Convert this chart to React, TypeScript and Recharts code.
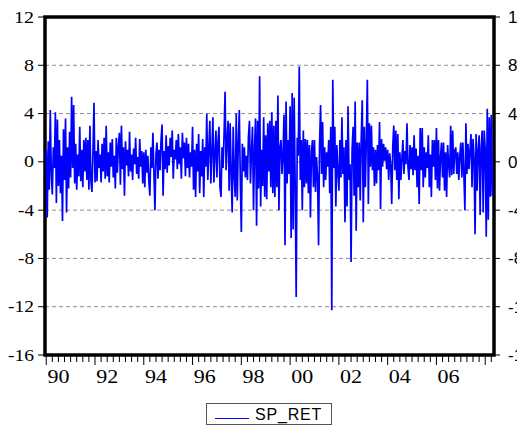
import React from 'react'
import { LineChart, Line, XAxis, YAxis, CartesianGrid, ReferenceArea } from 'recharts'

const START_YEAR = 1990
const PER_YEAR = 24

// SP_RET (%), twice a month, one row per year
const SP_RET: number[] = [
  1.0, -4.6, 1.7, -2.3, 4.3, -1.0, -2.7, 1.2, -0.5, 4.1, -3.4, 3.5, -2.0, 1.8, -2.6, 0.5, -4.9, 2.7, -1.5, 3.6, -4.2, 1.2, -2.2, 2.5,
  -1.3, 5.4, -0.5, 4.7, -1.8, 1.5, -2.3, 0.6, -1.2, 2.9, -1.6, 1.0, -2.1, 1.8, -0.8, 2.0, -1.5, 1.8, -2.3, 3.0, -1.6, -2.5, 0.8, 4.9,
  -1.7, 0.9, -1.6, 1.8, -0.5, 0.6, -1.7, 1.5, -0.8, 2.0, -1.4, 3.0, -1.2, 0.8, -1.7, 1.6, -0.4, 1.9, -1.3, 0.5, -2.2, 2.0, -0.9, 1.3,
  2.4, -1.9, 3.0, -0.6, 1.2, -2.8, 1.7, -0.3, 1.0, -1.2, 2.5, -0.8, 0.6, -1.5, 1.1, -0.2, 2.0, -1.0, 0.4, -1.4, 1.9, -0.4, 0.9, -1.8,
  0.8, -2.1, 1.0, -0.9, 0.5, -1.6, -2.8, 1.2, -0.5, 2.4, -1.0, -4.0, 0.6, 1.6, -1.4, 1.0, -0.7, 1.8, 3.1, -2.8, 0.9, -0.6, 2.2, -0.9,
  1.3, -0.3, 2.0, 0.4, 2.6, -1.4, 1.0, 0.2, 1.8, -0.6, 2.3, -0.2, 1.2, -1.4, 2.4, 0.3, 1.6, -1.2, 2.0, -0.5, 1.5, -1.3, 0.8, -0.4,
  2.9, -2.3, 1.0, -2.9, 1.5, -0.8, 2.3, -2.6, 0.9, -1.2, 1.9, -2.9, 1.2, -0.4, 4.0, -1.5, 1.0, 3.4, -1.8, 0.8, 3.7, -1.7, 0.6, 2.6,
  -1.3, 1.6, 2.9, -2.1, -2.9, 1.2, -0.5, 2.2, 5.8, -0.7, 1.9, 3.4, -2.4, 3.2, -1.0, -4.2, 2.9, -1.2, -2.9, 4.0, -3.2, 1.5, 4.3, -1.5,
  -5.8, 1.5, -0.8, 1.2, -1.3, 0.5, -1.5, 2.1, 3.4, -1.8, 0.9, 2.9, -4.0, 1.1, 3.6, -5.3, 3.4, -2.2, 7.1, -3.7, 1.0, -2.0, 3.7, -2.9,
  2.2, -3.1, 3.2, -0.8, 3.4, -2.1, 4.1, -2.6, 3.0, -2.9, 3.4, -2.1, 5.5, -4.0, 1.2, 1.8, -1.0, 0.6, 3.9, -6.9, 5.0, -1.8, 1.8, -1.0,
  4.6, -6.3, 5.7, -5.6, 5.3, -2.0, -11.2, 2.0, 0.5, 7.9, -1.5, 1.8, -4.0, 2.6, -2.1, 1.9, -1.8, 1.8, -2.6, 1.4, -4.6, 0.8, 1.8, -2.1,
  1.8, -2.5, 0.4, -1.2, -6.9, 1.5, 4.7, -1.0, 3.3, -2.1, 1.2, -1.5, 0.8, -0.4, 1.8, -2.6, 2.9, -12.3, 6.8, -0.5, 2.9, -3.7, 1.4, -0.8,
  -2.4, 1.8, -1.3, 3.7, -1.0, 1.2, -5.0, 1.8, -3.7, 4.6, -1.5, -0.2, -8.3, 1.0, 2.9, -2.8, 5.0, -5.7, 1.6, -2.1, 1.6, -3.2, 2.0, 5.1,
  -5.0, 2.9, -2.1, 1.8, 6.8, -3.5, 3.2, -0.4, 3.0, -0.7, 1.2, -2.0, 1.0, -1.8, 1.4, -0.7, 3.3, -3.9, 1.9, -0.4, 1.5, 0.1, 1.2, -0.6,
  1.0, -1.5, 0.7, -0.3, -3.5, 1.2, 3.0, -0.7, 2.6, -1.5, 2.3, -3.1, 0.8, -1.5, 0.3, 1.8, -1.0, 0.9, -0.2, 3.2, -0.4, -1.5, 1.4, -0.6,
  1.2, -1.1, 2.2, -0.7, 1.1, -2.1, 0.5, -3.5, 2.8, -0.7, 2.8, -2.1, 1.2, -1.3, 0.8, -0.5, 2.2, -2.1, 0.6, -2.9, 1.8, -0.4, 1.8, -1.5,
  2.8, -2.2, 1.8, -2.4, 0.4, 1.6, -1.3, 1.6, -2.4, 0.8, -2.9, 1.4, -0.2, -1.3, 3.0, -1.1, 2.6, -1.0, 0.9, 1.2, -1.0, 0.8, -1.5, 0.5,
  1.6, -1.3, 1.6, -1.0, -4.0, 3.2, -1.0, 1.5, -0.6, 0.9, 2.3, -2.1, 1.9, 0.4, -6.0, 2.3, -2.4, 1.0, 2.2, -4.4, 1.2, 2.6, -4.2, 2.6,
  1.0, -6.2, 4.4, -4.8, 3.7, -2.9, 3.9, -2.8,
]

const X_LABELS = ['90', '92', '94', '96', '98', '00', '02', '04', '06']
const X_LABEL_YEARS = [1990, 1992, 1994, 1996, 1998, 2000, 2002, 2004, 2006]
const GRID_YEARS = [1992, 1994, 1996, 1998, 2000, 2002, 2004, 2006, 2008]
const Y_TICKS = [-16, -12, -8, -4, 0, 4, 8, 12]

const X_DOMAIN: [number, number] = [1989.95, 2008.36]
const Y_DOMAIN: [number, number] = [-16, 12]

const data = SP_RET.map((v, i) => ({ t: START_YEAR + i / PER_YEAR, v }))

// quarter ticks under the axis
const quarterTicks: number[] = []
for (let q = 1990; q <= 2008.25 + 1e-9; q += 0.25) quarterTicks.push(Math.round(q * 100) / 100)

const XTick = (props: any) => {
  const { x, y, payload } = props
  const val: number = payload.value
  const yr = Math.floor(val + 1e-6)
  const frac = val - yr
  const long = Math.abs(frac) < 1e-6 && yr % 2 === 0
  const idx = Math.abs(frac - 0.5) < 1e-6 ? X_LABEL_YEARS.indexOf(yr) : -1
  return (
    <g>
      <line x1={x} x2={x} y1={y + 1} y2={y + (long ? 10 : 7)} stroke="#000" strokeWidth={1} />
      {idx >= 0 && (
        <text
          x={x}
          y={y + 28}
          textAnchor="middle"
          fontFamily="Liberation Serif"
          fontSize={19}
          fill="#000"
          textLength={22}
          lengthAdjust="spacingAndGlyphs"
        >
          {X_LABELS[idx]}
        </text>
      )}
    </g>
  )
}

const YTickLeft = (props: any) => {
  const { x, y, payload } = props
  const s = String(payload.value)
  const w = s.replace('-', '').length * 10 + (s.startsWith('-') ? 6 : 0)
  return (
    <text
      x={x}
      y={y + 5.5}
      textAnchor="end"
      fontFamily="Liberation Serif"
      fontSize={16}
      fill="#000"
      textLength={w}
      lengthAdjust="spacingAndGlyphs"
    >
      {s}
    </text>
  )
}

// right-hand labels run past the edge of the picture, as in the original
const YTickRight = (props: any) => {
  const { x, y, payload } = props
  return (
    <text x={x} y={y + 6} textAnchor="start" fontFamily="Liberation Sans" fontSize={17} fill="#000">
      {payload.value}
    </text>
  )
}

export default function App() {
  return (
    <div style={{ position: 'absolute', left: 0, top: 0, width: 517, height: 434, background: '#fff', overflow: 'hidden' }}>
      <LineChart width={517} height={434} data={data} margin={{ top: 17, right: 0, bottom: 49, left: 0 }}>
        <XAxis
          dataKey="t"
          type="number"
          domain={X_DOMAIN}
          allowDataOverflow
          ticks={quarterTicks}
          interval={0}
          height={30}
          tickSize={0}
          tickMargin={0}
          tickLine={false}
          tick={<XTick />}
          axisLine={false}
        />
        <XAxis
          xAxisId="top"
          dataKey="t"
          type="number"
          orientation="top"
          domain={X_DOMAIN}
          allowDataOverflow
          ticks={GRID_YEARS}
          interval={0}
          height={0}
          tick={false}
          tickLine={false}
          axisLine={false}
        />
        <YAxis
          yAxisId="left"
          type="number"
          domain={Y_DOMAIN}
          allowDataOverflow
          ticks={Y_TICKS}
          interval={0}
          width={45}
          tickSize={7}
          tickMargin={4}
          tickLine={{ stroke: '#000' }}
          tick={<YTickLeft />}
          axisLine={false}
        />
        <YAxis
          yAxisId="right"
          type="number"
          orientation="right"
          domain={Y_DOMAIN}
          allowDataOverflow
          ticks={Y_TICKS}
          interval={0}
          width={23}
          tickSize={6}
          tickMargin={8}
          tickLine={{ stroke: '#000' }}
          tick={<YTickRight />}
          axisLine={false}
        />
        <CartesianGrid xAxisId="top" yAxisId="left" horizontal={false} stroke="#a8a8a8" strokeDasharray="3 3" />
        <CartesianGrid yAxisId="left" vertical={false} stroke="#8c8c8c" strokeDasharray="4 3" />
        <Line
          yAxisId="left"
          dataKey="v"
          type="linear"
          stroke="#0000ff"
          strokeWidth={1.7}
          dot={false}
          activeDot={false}
          isAnimationActive={false}
        />
        <Line
          yAxisId="right"
          dataKey="v"
          type="linear"
          stroke="none"
          dot={false}
          activeDot={false}
          legendType="none"
          isAnimationActive={false}
        />
        <ReferenceArea
          yAxisId="left"
          x1={X_DOMAIN[0]}
          x2={X_DOMAIN[1]}
          y1={Y_DOMAIN[0]}
          y2={Y_DOMAIN[1]}
          fill="none"
          stroke="#000"
          strokeWidth={3.5}
          ifOverflow="visible"
        />
      </LineChart>
      <div
        style={{
          position: 'absolute',
          left: 206,
          top: 403,
          width: 124,
          height: 20,
          border: '1px solid #555',
          background: '#fff',
        }}
      >
        <svg width={40} height={20} style={{ position: 'absolute', left: 6, top: 0 }}>
          <line x1={2} x2={36} y1={14.5} y2={14.5} stroke="#0000ff" strokeWidth={1} />
        </svg>
        <span
          style={{
            position: 'absolute',
            left: 48,
            top: 2,
            fontFamily: "'Liberation Sans', Arial, sans-serif",
            fontSize: 16,
            letterSpacing: 0.8,
            lineHeight: '18px',
            color: '#000',
          }}
        >
          SP_RET
        </span>
      </div>
    </div>
  )
}
